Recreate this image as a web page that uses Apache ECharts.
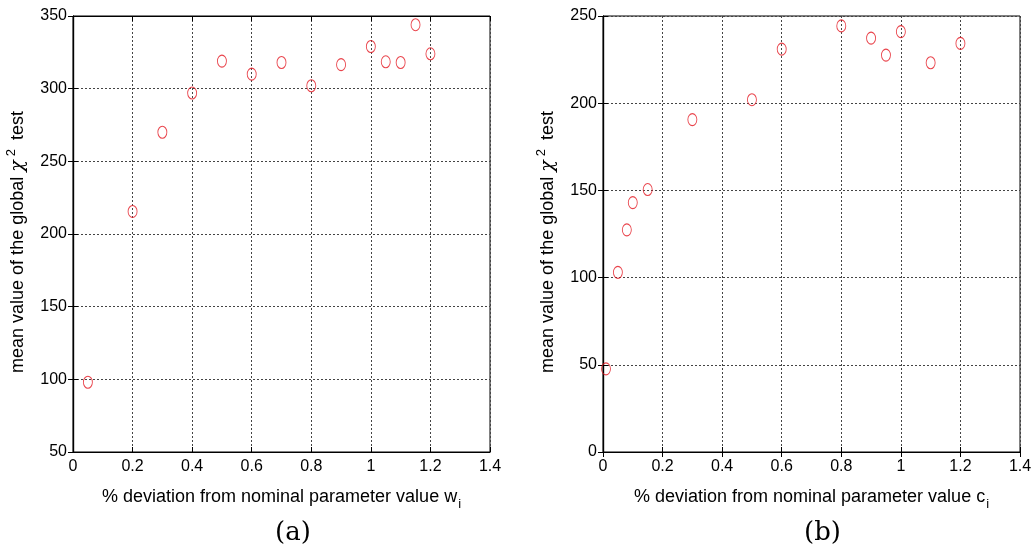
<!DOCTYPE html>
<html>
<head>
<meta charset="utf-8">
<script src="https://cdn.jsdelivr.net/npm/echarts@6/dist/echarts.min.js"></script>
<style>
  html, body { margin: 0; padding: 0; background: #fff; }
  #chart { width: 1035px; height: 556px; }
</style>
</head>
<body>
<div id="chart"></div>
<script>
// (a) deviation in w_i
const wDeviation = [0.05, 0.2, 0.3, 0.4, 0.5, 0.6, 0.7, 0.8, 0.9, 1.0, 1.05, 1.1, 1.15, 1.2]
const wChiMean = [98, 215.5, 270, 297, 319, 310, 318, 302, 316.5, 329, 318.5, 318, 344, 324]

// (b) deviation in c_i
const cDeviation = [0.01, 0.05, 0.08, 0.1, 0.15, 0.3, 0.5, 0.6, 0.8, 0.9, 0.95, 1.0, 1.1, 1.2]
const cChiMean = [47.7, 103, 127.4, 143, 150.5, 190.6, 202, 231, 244.3, 237.3, 227.6, 241, 223.2, 234.3]

const captions = ['(a)', '(b)']

const FONT = 'Liberation Sans'
const gridLine = { show: true, lineStyle: { color: '#444', type: [2, 2], width: 1 } }

function bottomAxis(idx, sub) {
  return {
    type: 'value', gridIndex: idx, position: 'bottom',
    min: 0, max: 1.4, interval: 0.2,
    axisLine: { show: true, lineStyle: { color: '#000', width: 1.2 } },
    axisTick: { show: true, inside: true, length: 5, lineStyle: { color: '#000' } },
    axisLabel: { color: '#000', fontFamily: FONT, fontSize: 16, margin: 7 },
    splitLine: gridLine,
    name: '{t|% deviation from nominal parameter value ' + sub + '}{s|i}',
    nameLocation: 'middle', nameGap: 32,
    nameTextStyle: {
      rich: {
        t: { fontFamily: FONT, fontSize: 18, color: '#000' },
        s: { fontFamily: FONT, fontSize: 13, color: '#000', padding: [14, 0, 0, 1] }
      }
    }
  }
}

function topAxis(idx) {
  return {
    type: 'value', gridIndex: idx, position: 'top',
    min: 0, max: 1.4, interval: 0.2,
    axisLine: { show: true, lineStyle: { color: '#000', width: 1.2 } },
    axisTick: { show: true, inside: true, length: 5, lineStyle: { color: '#000' } },
    axisLabel: { show: false }, splitLine: { show: false }
  }
}

function leftAxis(idx, min, max) {
  return {
    type: 'value', gridIndex: idx, position: 'left',
    min: min, max: max, interval: 50,
    axisLine: { show: true, lineStyle: { color: '#000', width: 1.2 } },
    axisTick: { show: true, inside: true, length: 5, lineStyle: { color: '#000' } },
    axisLabel: { color: '#000', fontFamily: FONT, fontSize: 16, margin: 6 },
    splitLine: gridLine,
    name: '{t|mean value of the global }{c|χ}{p|2}{t| test}',
    nameLocation: 'middle', nameGap: 41,
    nameTextStyle: {
      padding: [0, 16, 0, 0],
      rich: {
        t: { fontFamily: FONT, fontSize: 18, color: '#000' },
        c: { fontFamily: 'DejaVu Serif', fontSize: 19, color: '#000', fontStyle: 'italic' },
        p: { fontFamily: FONT, fontSize: 13, color: '#000', padding: [0, 4, 14, 4] }
      }
    }
  }
}

function rightAxis(idx, min, max) {
  return {
    type: 'value', gridIndex: idx, position: 'right',
    min: min, max: max, interval: 50,
    axisLine: { show: true, lineStyle: { color: '#000', width: 1.2 } },
    axisTick: { show: true, inside: true, length: 5, lineStyle: { color: '#000' } },
    axisLabel: { show: false }, splitLine: { show: false }
  }
}

function pointSeries(xIdx, yIdx, xs, ys) {
  return {
    type: 'scatter', xAxisIndex: xIdx, yAxisIndex: yIdx,
    data: xs.map((x, i) => [x, ys[i]]),
    symbol: 'circle', symbolSize: [9, 12],
    itemStyle: { color: 'rgba(0,0,0,0)', borderColor: '#e3151f', borderWidth: 1 },
    silent: true
  }
}

const chart = echarts.init(document.getElementById('chart'))
chart.setOption({
  backgroundColor: '#fff',
  animation: false,
  grid: [
    { left: 73, top: 16, width: 417, height: 436, show: true, borderColor: '#000', borderWidth: 1 },
    { left: 603, top: 16, width: 417, height: 436, show: true, borderColor: '#000', borderWidth: 1 }
  ],
  xAxis: [bottomAxis(0, 'w'), topAxis(0), bottomAxis(1, 'c'), topAxis(1)],
  yAxis: [leftAxis(0, 50, 350), rightAxis(0, 50, 350), leftAxis(1, 0, 250), rightAxis(1, 0, 250)],
  series: [
    pointSeries(0, 0, wDeviation, wChiMean),
    pointSeries(2, 2, cDeviation, cChiMean)
  ],
  graphic: [
    { type: 'text', left: 275, top: 520, style: { text: captions[0], font: '26px "DejaVu Serif"', fill: '#000' } },
    { type: 'text', left: 804, top: 520, style: { text: captions[1], font: '26px "DejaVu Serif"', fill: '#000' } }
  ]
})
</script>
</body>
</html>
